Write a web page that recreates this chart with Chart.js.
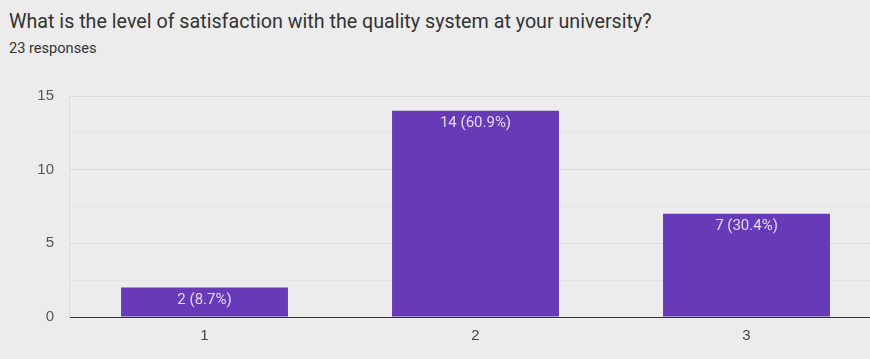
<!DOCTYPE html>
<html>
<head>
<meta charset="utf-8">
<script src="https://cdn.jsdelivr.net/npm/chart.js@4.4.1/dist/chart.umd.min.js"></script>
<style>
  html, body { margin: 0; padding: 0; background: #ececec; overflow: hidden; }
  body { width: 870px; height: 359px; position: relative; font-family: Roboto, "Noto Sans", sans-serif; }
  #title { position: absolute; left: 9px; top: 10px; font-size: 19.7px; color: #333; }
  #sub { position: absolute; left: 9px; top: 39px; font-size: 14.6px; color: #333; }
  #wrap { position: absolute; left: 0; top: 0; width: 882px; height: 359px; }
</style>
</head>
<body>
<div id="title">What is the level of satisfaction with the quality system at your university?</div>
<div id="sub">23 responses</div>
<div id="wrap"><canvas id="chart"></canvas></div>
<script>
// данные
const categories = ["1", "2", "3"];
const counts = [2, 14, 7];
const percents = ["8.7%", "60.9%", "30.4%"];

// подписи внутри столбцов
const barLabels = {
  id: "barLabels",
  afterDatasetsDraw(chart) {
    const ctx = chart.ctx;
    const meta = chart.getDatasetMeta(0);
    ctx.save();
    ctx.font = "15px Roboto, 'Noto Sans', sans-serif";
    ctx.fillStyle = "#e2daf0";
    ctx.textAlign = "center";
    ctx.textBaseline = "top";
    meta.data.forEach((bar, i) => {
      ctx.fillText(counts[i] + " (" + percents[i] + ")", bar.x, bar.y + 5);
    });
    ctx.restore();
  },
};

new Chart(document.getElementById("chart"), {
  type: "bar",
  data: {
    labels: categories,
    datasets: [
      {
        data: counts,
        backgroundColor: "#673ab7",
        barPercentage: 0.616,
        categoryPercentage: 1,
      },
    ],
  },
  options: {
    responsive: true,
    maintainAspectRatio: false,
    animation: false,
    layout: { padding: { top: 96, left: 0, right: 0, bottom: 0 } },
    plugins: { legend: { display: false }, tooltip: { enabled: false } },
    scales: {
      x: {
        grid: { display: false },
        border: { color: "#333", width: 1 },
        ticks: { color: "#444", font: { size: 15 }, padding: 2 },
        afterFit: (s) => { s.height = 42; },
      },
      y: {
        min: 0,
        max: 15,
        ticks: {
          stepSize: 2.5,
          color: "#555",
          font: { size: 15 },
          padding: 15,
          callback: (v) => (v % 5 === 0 ? v : ""),
        },
        grid: {
          drawTicks: false,
          color: (c) => (c.tick && c.tick.value % 5 === 0 ? "#dcdcdc" : "#e4e4e4"),
        },
        border: { color: "#dcdcdc" },
        afterFit: (s) => { s.width = 69; },
      },
    },
  },
  plugins: [barLabels],
});
</script>
</body>
</html>
